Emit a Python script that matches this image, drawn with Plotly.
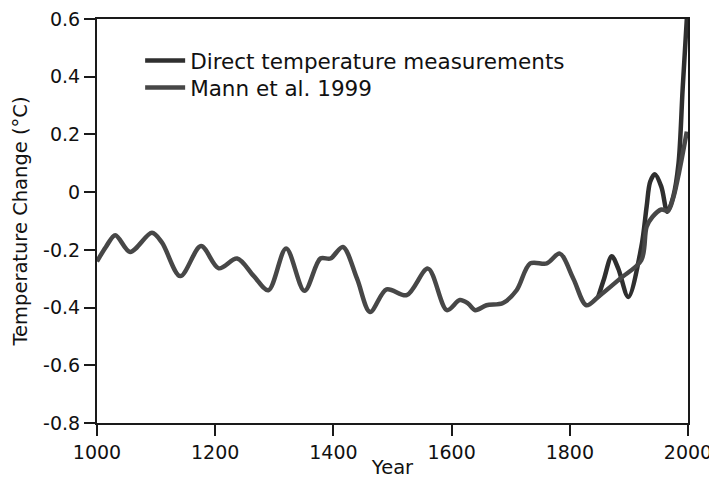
import plotly.graph_objects as go

# Mann et al. 1999 reconstruction (years, °C)
mann_years = [1000, 1015, 1031, 1056, 1093, 1110, 1141, 1176, 1206, 1237, 1265, 1290,
              1320, 1351, 1378, 1395, 1416, 1440, 1462, 1490, 1524, 1560, 1592, 1614,
              1628, 1640, 1659, 1687, 1710, 1733, 1761, 1783, 1806, 1828, 1848, 1885,
              1921, 1930, 1940, 1955, 1966, 1975, 1985, 1998]
mann_vals = [-0.24, -0.19, -0.149, -0.207, -0.141, -0.175, -0.291, -0.187, -0.264, -0.23,
             -0.29, -0.34, -0.195, -0.342, -0.23, -0.23, -0.19, -0.30, -0.415, -0.337,
             -0.357, -0.265, -0.409, -0.374, -0.386, -0.409, -0.392, -0.384, -0.34, -0.247,
             -0.247, -0.213, -0.30, -0.392, -0.363, -0.30, -0.236, -0.12, -0.085, -0.06,
             -0.065, -0.02, 0.07, 0.21]

# Direct temperature measurements (years, °C)
direct_years = [1848, 1858, 1871, 1882, 1899, 1921, 1930, 1936, 1944, 1955, 1965, 1975,
                1984, 1991, 1998]
direct_vals = [-0.363, -0.30, -0.222, -0.265, -0.363, -0.19, -0.05, 0.036, 0.062, 0.018,
               -0.068, -0.016, 0.10, 0.36, 0.60]

x_ticks = [1000, 1200, 1400, 1600, 1800, 2000]
y_ticks = [-0.8, -0.6, -0.4, -0.2, 0, 0.2, 0.4, 0.6]
y_tick_text = ["-0.8", "-0.6", "-0.4", "-0.2", "0", "0.2", "0.4", "0.6"]

fig = go.Figure()
fig.add_trace(go.Scatter(
    x=direct_years, y=direct_vals, mode="lines", name="Direct temperature measurements",
    line=dict(color="#2f2f2f", width=4.5, shape="spline", smoothing=0.9),
    legend="legend", cliponaxis=True,
))
fig.add_trace(go.Scatter(
    x=mann_years, y=mann_vals, mode="lines", name="Mann et al. 1999",
    line=dict(color="#474747", width=4.5, shape="spline", smoothing=0.9),
    legend="legend2", cliponaxis=True,
))

font_family = "DejaVu Sans, Liberation Sans, sans-serif"
legend_style = dict(
    xanchor="left", yanchor="top",
    bgcolor="rgba(0,0,0,0)", borderwidth=0,
    font=dict(size=21.5, family=font_family, color="#111111"),
    itemwidth=40,
)
fig.update_layout(
    width=709, height=471,
    margin=dict(l=89, r=29, t=11, b=56, autoexpand=False),
    paper_bgcolor="white", plot_bgcolor="white",
    font=dict(family=font_family, color="#111111", size=19),
    showlegend=True,
    legend=dict(x=0.073, y=0.948, **legend_style),
    legend2=dict(x=0.073, y=0.881, **legend_style),
    xaxis=dict(
        range=[1000, 2000], tickvals=x_ticks, ticktext=[str(v) for v in x_ticks],
        showgrid=False, zeroline=False, automargin=False, ticklabeloverflow="allow",
        showline=True, linecolor="#1a1a1a", linewidth=2, mirror=True, layer="above traces",
        ticks="outside", ticklen=11, tickwidth=2, tickcolor="#1a1a1a",
        tickfont=dict(size=19),
        title=dict(text="Year", font=dict(size=19.5), standoff=6),
    ),
    yaxis=dict(
        range=[-0.8, 0.6], tickvals=y_ticks, ticktext=y_tick_text,
        showgrid=False, zeroline=False, automargin=False, ticklabeloverflow="allow",
        showline=True, linecolor="#1a1a1a", linewidth=2, mirror=True, layer="above traces",
        ticks="outside", ticklen=11, tickwidth=2, tickcolor="#1a1a1a",
        tickfont=dict(size=19),
        title=dict(text="Temperature Change (°C)", font=dict(size=19.5), standoff=10),
    ),
)

fig.write_html("out.html")
